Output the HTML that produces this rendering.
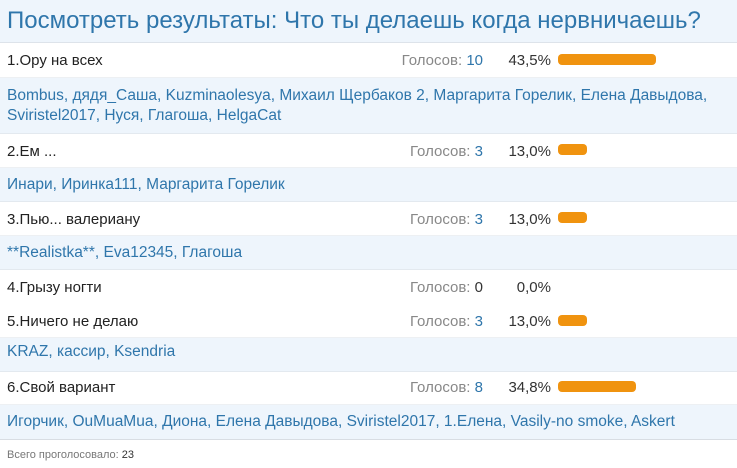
<!DOCTYPE html>
<html><head><meta charset="utf-8"><style>
body{margin:0;width:737px;height:468px;background:#fff;font-family:"Liberation Sans","DejaVu Sans",sans-serif;overflow:hidden;position:relative}
.a{position:absolute;left:0;width:737px}
.h{top:0;height:42px;background:#eef5fc;border-bottom:1px solid #dde3ea}
.h span{position:absolute;left:7px;top:7px;font-size:24px;color:#2f76ab;white-space:nowrap}
.r{background:#fff;border-bottom:1px solid #edf0f3}
.n{background:#eef5fc;border-bottom:1px solid #e3e9ef}
.t{position:absolute;left:7px;font-size:15px;color:#222;white-space:nowrap}
.nm{position:absolute;left:7px;font-size:15.5px;color:#2f76ab;white-space:nowrap;line-height:20px}
.v{position:absolute;right:254px;font-size:15px;color:#888;white-space:nowrap}
.v b{font-weight:normal;color:#2f76ab}
.v i{font-style:normal;color:#333}
.p{position:absolute;right:186px;font-size:15px;color:#333}
.bar{position:absolute;left:558px;height:11px;background:#f0930f;border-radius:4px}
</style></head><body>
<div class="a h"><span>Посмотреть результаты: Что ты делаешь когда нервничаешь?</span></div>

<div class="a r" style="top:43px;height:34px"><span class="t" style="top:9px">1.Ору на всех</span><span class="v" style="top:9px">Голосов: <b>10</b></span><span class="p" style="top:9px">43,5%</span><div class="bar" style="top:11px;width:98px"></div></div>
<div class="a n" style="top:78px;height:55px"><div class="nm" style="top:8px">Bombus, дядя_Саша, Kuzminaolesya, Михаил Щербаков 2, Маргарита Горелик, Елена Давыдова,<br>Sviristel2017, Нуся, Глагоша, HelgaCat</div></div>

<div class="a r" style="top:134px;height:33px"><span class="t" style="top:9px">2.Ем ...</span><span class="v" style="top:9px">Голосов: <b>3</b></span><span class="p" style="top:9px">13,0%</span><div class="bar" style="top:10px;width:29px"></div></div>
<div class="a n" style="top:168px;height:33px"><div class="nm" style="top:7px">Инари, Иринка111, Маргарита Горелик</div></div>

<div class="a r" style="top:202px;height:33px"><span class="t" style="top:9px">3.Пью... валериану</span><span class="v" style="top:9px">Голосов: <b>3</b></span><span class="p" style="top:9px">13,0%</span><div class="bar" style="top:10px;width:29px"></div></div>
<div class="a n" style="top:236px;height:33px"><div class="nm" style="top:7px">**Realistka**, Eva12345, Глагоша</div></div>

<div class="a r" style="top:270px;height:33px;border-bottom:none"><span class="t" style="top:9px">4.Грызу ногти</span><span class="v" style="top:9px">Голосов: <i>0</i></span><span class="p" style="top:9px">0,0%</span></div>

<div class="a r" style="top:304px;height:33px"><span class="t" style="top:9px">5.Ничего не делаю</span><span class="v" style="top:9px">Голосов: <b>3</b></span><span class="p" style="top:9px">13,0%</span><div class="bar" style="top:11px;width:29px"></div></div>
<div class="a n" style="top:338px;height:33px"><div class="nm" style="top:4px">KRAZ, кассир, Ksendria</div></div>

<div class="a r" style="top:372px;height:32px"><span class="t" style="top:7px">6.Свой вариант</span><span class="v" style="top:7px">Голосов: <b>8</b></span><span class="p" style="top:7px">34,8%</span><div class="bar" style="top:9px;width:78px"></div></div>
<div class="a n" style="top:405px;height:34px;border-bottom:1px solid #d8dde3"><div class="nm" style="top:7px">Игорчик, OuMuaMua, Диона, Елена Давыдова, Sviristel2017, 1.Елена, Vasily-no smoke, Askert</div></div>

<div class="a" style="top:449px;height:16px;font-size:11px;color:#777"><span style="position:absolute;left:7px">Всего проголосовало: <span style="color:#333">23</span></span></div>
</body></html>
